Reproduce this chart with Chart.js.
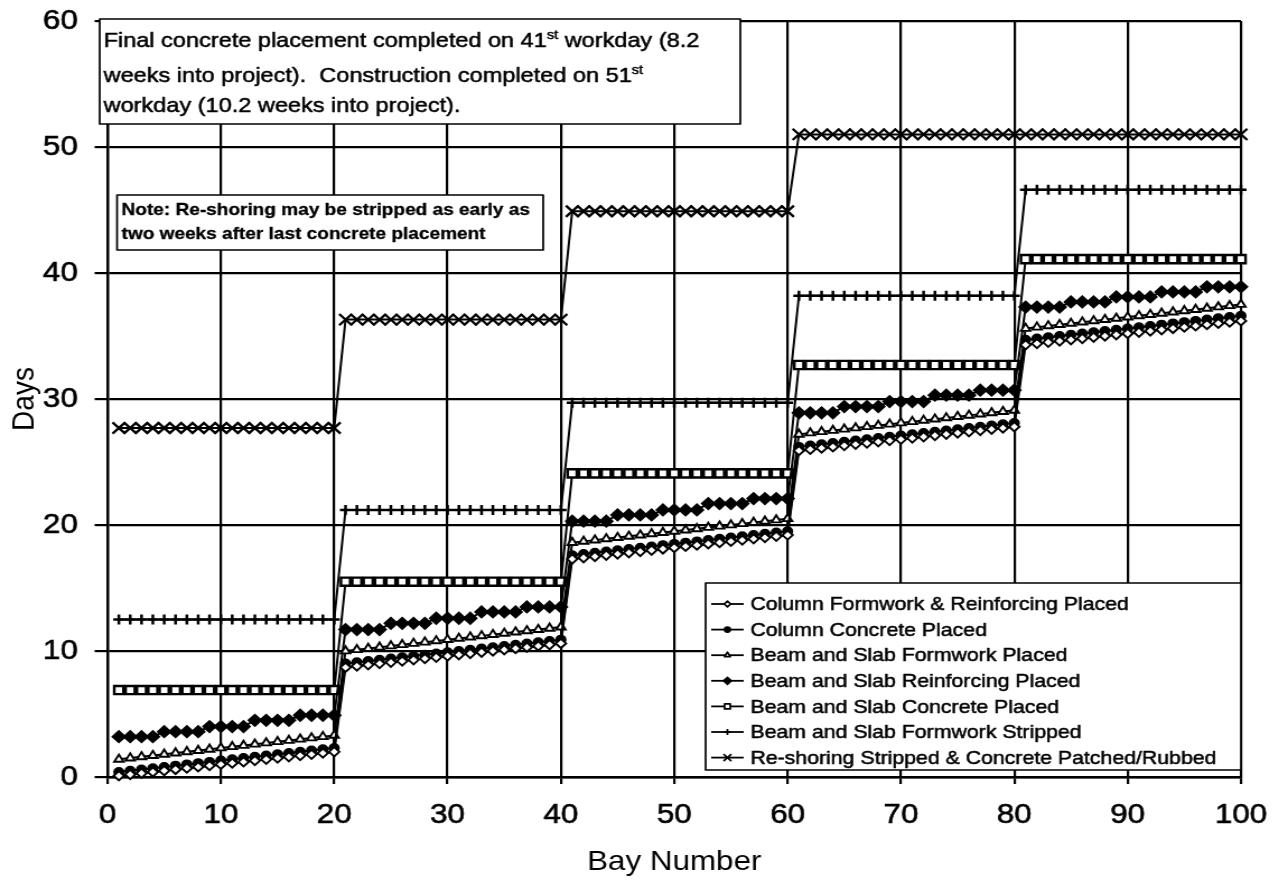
<!DOCTYPE html>
<html>
<head>
<meta charset="utf-8">
<title>Bay construction schedule</title>
<script src="https://cdn.jsdelivr.net/npm/chart.js@4.4.1/dist/chart.umd.min.js"></script>
<style>
  html, body { margin: 0; padding: 0; background: #fff; overflow: hidden; }
  /* the chart is laid out 1136 px wide and shown 12% wider */
  #wrap { width: 1136px; height: 880px; transform: scaleX(1.12); transform-origin: 0 0; }
  #schedule { display: block; }
</style>
</head>
<body>
<div id="wrap"><canvas id="schedule" width="1136" height="880"></canvas></div>
<script>
// ---- data -------------------------------------------------------------
const seriesLabels = [
  'Column Formwork & Reinforcing Placed',
  'Column Concrete Placed',
  'Beam and Slab Formwork Placed',
  'Beam and Slab Reinforcing Placed',
  'Beam and Slab Concrete Placed',
  'Beam and Slab Formwork Stripped',
  'Re-shoring Stripped & Concrete Patched/Rubbed'
];
const xTickValues = [0, 10, 20, 30, 40, 50, 60, 70, 80, 90, 100];
const yTickValues = [0, 10, 20, 30, 40, 50, 60];

// bay numbers 1..100
const bayNumbers = [];
for (let b = 1; b <= 100; b++) bayNumbers.push(b);

const columnFormworkDays = [
  0.1, 0.2, 0.3, 0.4, 0.5, 0.6, 0.7, 0.8, 0.9, 1.0, 1.1, 1.2, 1.3, 1.4, 1.5, 1.6, 1.7, 1.8, 1.9, 2.0,
  8.7, 8.8, 8.9, 9.0, 9.1, 9.2, 9.3, 9.4, 9.5, 9.6, 9.7, 9.8, 9.9, 10.0, 10.1, 10.2, 10.3, 10.4, 10.5, 10.6,
  17.3, 17.4, 17.5, 17.6, 17.7, 17.8, 17.9, 18.0, 18.1, 18.2, 18.3, 18.4, 18.5, 18.6, 18.7, 18.8, 18.9, 19.0, 19.1, 19.2,
  25.9, 26.0, 26.1, 26.2, 26.3, 26.4, 26.5, 26.6, 26.7, 26.8, 26.9, 27.0, 27.1, 27.2, 27.3, 27.4, 27.5, 27.6, 27.7, 27.8,
  34.3, 34.4, 34.5, 34.6, 34.7, 34.8, 34.9, 35.0, 35.1, 35.2, 35.3, 35.4, 35.5, 35.6, 35.7, 35.8, 35.9, 36.0, 36.1, 36.2
];
const columnConcreteDays = [
  0.4, 0.5, 0.6, 0.7, 0.8, 0.9, 1.0, 1.1, 1.2, 1.3, 1.4, 1.5, 1.6, 1.7, 1.8, 1.9, 2.0, 2.1, 2.2, 2.3,
  9.0, 9.1, 9.2, 9.3, 9.4, 9.5, 9.6, 9.7, 9.8, 9.9, 10.0, 10.1, 10.2, 10.3, 10.4, 10.5, 10.6, 10.7, 10.8, 10.9,
  17.6, 17.7, 17.8, 17.9, 18.0, 18.1, 18.2, 18.3, 18.4, 18.5, 18.6, 18.7, 18.8, 18.9, 19.0, 19.1, 19.2, 19.3, 19.4, 19.5,
  26.2, 26.3, 26.4, 26.5, 26.6, 26.7, 26.8, 26.9, 27.0, 27.1, 27.2, 27.3, 27.4, 27.5, 27.6, 27.7, 27.8, 27.9, 28.0, 28.1,
  34.7, 34.8, 34.9, 35.0, 35.1, 35.2, 35.3, 35.4, 35.5, 35.6, 35.7, 35.8, 35.9, 36.0, 36.1, 36.2, 36.3, 36.4, 36.5, 36.6
];
const beamFormworkDays = [
  1.4, 1.5, 1.6, 1.7, 1.8, 1.9, 2.0, 2.1, 2.2, 2.3, 2.4, 2.5, 2.6, 2.7, 2.8, 2.9, 3.0, 3.1, 3.2, 3.3,
  10.0, 10.1, 10.2, 10.3, 10.4, 10.5, 10.6, 10.7, 10.8, 10.9, 11.0, 11.1, 11.2, 11.3, 11.4, 11.5, 11.6, 11.7, 11.8, 11.9,
  18.6, 18.7, 18.8, 18.9, 19.0, 19.1, 19.2, 19.3, 19.4, 19.5, 19.6, 19.7, 19.8, 19.9, 20.0, 20.1, 20.2, 20.3, 20.4, 20.5,
  27.2, 27.3, 27.4, 27.5, 27.6, 27.7, 27.8, 27.9, 28.0, 28.1, 28.2, 28.3, 28.4, 28.5, 28.6, 28.7, 28.8, 28.9, 29.0, 29.1,
  35.6, 35.7, 35.8, 35.9, 36.0, 36.1, 36.2, 36.3, 36.4, 36.5, 36.6, 36.7, 36.8, 36.9, 37.0, 37.1, 37.2, 37.3, 37.4, 37.5
];
const beamReinforcingDays = [
  3.2, 3.2, 3.2, 3.2, 3.6, 3.6, 3.6, 3.6, 4.0, 4.0, 4.0, 4.0, 4.5, 4.5, 4.5, 4.5, 4.9, 4.9, 4.9, 4.9,
  11.7, 11.7, 11.7, 11.7, 12.2, 12.2, 12.2, 12.2, 12.6, 12.6, 12.6, 12.6, 13.1, 13.1, 13.1, 13.1, 13.5, 13.5, 13.5, 13.5,
  20.3, 20.3, 20.3, 20.3, 20.8, 20.8, 20.8, 20.8, 21.2, 21.2, 21.2, 21.2, 21.7, 21.7, 21.7, 21.7, 22.1, 22.1, 22.1, 22.1,
  28.9, 28.9, 28.9, 28.9, 29.4, 29.4, 29.4, 29.4, 29.8, 29.8, 29.8, 29.8, 30.3, 30.3, 30.3, 30.3, 30.7, 30.7, 30.7, 30.7,
  37.3, 37.3, 37.3, 37.3, 37.7, 37.7, 37.7, 37.7, 38.1, 38.1, 38.1, 38.1, 38.5, 38.5, 38.5, 38.5, 38.9, 38.9, 38.9, 38.9
];
const beamConcreteDays = [
  6.9, 6.9, 6.9, 6.9, 6.9, 6.9, 6.9, 6.9, 6.9, 6.9, 6.9, 6.9, 6.9, 6.9, 6.9, 6.9, 6.9, 6.9, 6.9, 6.9,
  15.5, 15.5, 15.5, 15.5, 15.5, 15.5, 15.5, 15.5, 15.5, 15.5, 15.5, 15.5, 15.5, 15.5, 15.5, 15.5, 15.5, 15.5, 15.5, 15.5,
  24.1, 24.1, 24.1, 24.1, 24.1, 24.1, 24.1, 24.1, 24.1, 24.1, 24.1, 24.1, 24.1, 24.1, 24.1, 24.1, 24.1, 24.1, 24.1, 24.1,
  32.7, 32.7, 32.7, 32.7, 32.7, 32.7, 32.7, 32.7, 32.7, 32.7, 32.7, 32.7, 32.7, 32.7, 32.7, 32.7, 32.7, 32.7, 32.7, 32.7,
  41.1, 41.1, 41.1, 41.1, 41.1, 41.1, 41.1, 41.1, 41.1, 41.1, 41.1, 41.1, 41.1, 41.1, 41.1, 41.1, 41.1, 41.1, 41.1, 41.1
];
const formworkStrippedDays = [
  12.5, 12.5, 12.5, 12.5, 12.5, 12.5, 12.5, 12.5, 12.5, 12.5, 12.5, 12.5, 12.5, 12.5, 12.5, 12.5, 12.5, 12.5, 12.5, 12.5,
  21.2, 21.2, 21.2, 21.2, 21.2, 21.2, 21.2, 21.2, 21.2, 21.2, 21.2, 21.2, 21.2, 21.2, 21.2, 21.2, 21.2, 21.2, 21.2, 21.2,
  29.7, 29.7, 29.7, 29.7, 29.7, 29.7, 29.7, 29.7, 29.7, 29.7, 29.7, 29.7, 29.7, 29.7, 29.7, 29.7, 29.7, 29.7, 29.7, 29.7,
  38.2, 38.2, 38.2, 38.2, 38.2, 38.2, 38.2, 38.2, 38.2, 38.2, 38.2, 38.2, 38.2, 38.2, 38.2, 38.2, 38.2, 38.2, 38.2, 38.2,
  46.6, 46.6, 46.6, 46.6, 46.6, 46.6, 46.6, 46.6, 46.6, 46.6, 46.6, 46.6, 46.6, 46.6, 46.6, 46.6, 46.6, 46.6, 46.6, 46.6
];
const reshoringStrippedDays = [
  27.7, 27.7, 27.7, 27.7, 27.7, 27.7, 27.7, 27.7, 27.7, 27.7, 27.7, 27.7, 27.7, 27.7, 27.7, 27.7, 27.7, 27.7, 27.7, 27.7,
  36.3, 36.3, 36.3, 36.3, 36.3, 36.3, 36.3, 36.3, 36.3, 36.3, 36.3, 36.3, 36.3, 36.3, 36.3, 36.3, 36.3, 36.3, 36.3, 36.3,
  44.9, 44.9, 44.9, 44.9, 44.9, 44.9, 44.9, 44.9, 44.9, 44.9, 44.9, 44.9, 44.9, 44.9, 44.9, 44.9, 44.9, 44.9, 44.9, 44.9,
  51.0, 51.0, 51.0, 51.0, 51.0, 51.0, 51.0, 51.0, 51.0, 51.0, 51.0, 51.0, 51.0, 51.0, 51.0, 51.0, 51.0, 51.0, 51.0, 51.0,
  51.0, 51.0, 51.0, 51.0, 51.0, 51.0, 51.0, 51.0, 51.0, 51.0, 51.0, 51.0, 51.0, 51.0, 51.0, 51.0, 51.0, 51.0, 51.0, 51.0
];

const seriesValues = [
  columnFormworkDays, columnConcreteDays, beamFormworkDays, beamReinforcingDays,
  beamConcreteDays, formworkStrippedDays, reshoringStrippedDays
];

// ---- marker styles per activity ----------------------------------------
const markerStyles = [
  { pointStyle: 'rectRot',  pointRadius: 4.6, fill: '#fff', pointBorderWidth: 1.9 },
  { pointStyle: 'circle',   pointRadius: 4.3, fill: '#000', pointBorderWidth: 1.4 },
  { pointStyle: 'triangle', pointRadius: 4.8, fill: '#fff', pointBorderWidth: 1.9 },
  { pointStyle: 'rectRot',  pointRadius: 5.9, fill: '#000', pointBorderWidth: 1.4 },
  { pointStyle: 'rect',     pointRadius: 5.8, fill: '#fff', pointBorderWidth: 2.4 },
  { pointStyle: 'cross',    pointRadius: 5.0, fill: '#000', pointBorderWidth: 2.5 },
  { pointStyle: 'crossRot', pointRadius: 8.0, fill: '#000', pointBorderWidth: 2.3 }
];

const datasets = seriesLabels.map((label, i) => ({
  label,
  data: bayNumbers.map((bay, k) => ({ x: bay, y: seriesValues[i][k] })),
  borderColor: '#000',
  borderWidth: 2,
  pointStyle: markerStyles[i].pointStyle,
  pointRadius: markerStyles[i].pointRadius,
  pointHoverRadius: markerStyles[i].pointRadius,
  pointBorderWidth: markerStyles[i].pointBorderWidth,
  pointBorderColor: '#000',
  pointBackgroundColor: markerStyles[i].fill,
  tension: 0,
  fill: false,
  clip: false
}));

// ---- boxed notes and the legend panel -------------------------------------
const FONT = "'Liberation Sans', Arial, Helvetica, sans-serif";

function heavyText(ctx, text, x, y) {
  ctx.fillText(text, x, y);
  ctx.strokeText(text, x, y);
}

function drawTextWithSup(ctx, parts, x, y, size) {
  let cx = x;
  for (const p of parts) {
    if (p.sup) {
      ctx.font = `${Math.round(size * 0.62)}px ${FONT}`;
      heavyText(ctx, p.text, cx, y - size * 0.38);
    } else {
      ctx.font = `${size}px ${FONT}`;
      heavyText(ctx, p.text, cx, y);
    }
    cx += ctx.measureText(p.text).width;
  }
}

const notesPlugin = {
  id: 'notes',
  afterDraw(chart) {
    const ctx = chart.ctx;
    const area = chart.chartArea;
    ctx.save();
    ctx.strokeStyle = '#000';
    ctx.fillStyle = '#000';
    ctx.textBaseline = 'alphabetic';
    ctx.textAlign = 'left';
    ctx.lineJoin = 'round';

    // schedule summary box (top left)
    const b1 = { left: area.left - 7, top: area.top - 2, right: 661, bottom: 124 };
    ctx.lineWidth = 1.7;
    ctx.fillStyle = '#fff';
    ctx.fillRect(b1.left, b1.top, b1.right - b1.left, b1.bottom - b1.top);
    ctx.strokeRect(b1.left, b1.top, b1.right - b1.left, b1.bottom - b1.top);
    ctx.fillStyle = '#000';
    ctx.lineWidth = 0.5;
    const tx = b1.left + 3.5;
    drawTextWithSup(ctx, [
      { text: 'Final concrete placement completed on 41' }, { text: 'st', sup: true },
      { text: ' workday (8.2' }], tx, 47, 21);
    drawTextWithSup(ctx, [
      { text: 'weeks into project).  Construction completed on 51' }, { text: 'st', sup: true }],
      tx, 82, 21);
    drawTextWithSup(ctx, [{ text: 'workday (10.2 weeks into project).' }], tx, 112, 21);

    // re-shoring note
    const b2 = { left: 104.5, top: 195, right: 485, bottom: 250 };
    ctx.lineWidth = 1.7;
    ctx.fillStyle = '#fff';
    ctx.fillRect(b2.left, b2.top, b2.right - b2.left, b2.bottom - b2.top);
    ctx.strokeRect(b2.left, b2.top, b2.right - b2.left, b2.bottom - b2.top);
    ctx.fillStyle = '#000';
    ctx.lineWidth = 0.3;
    ctx.font = `bold 17px ${FONT}`;
    heavyText(ctx, 'Note: Re-shoring may be stripped as early as', b2.left + 4, 215);
    heavyText(ctx, 'two weeks after last concrete placement', b2.left + 4, 239);

    // legend panel (bottom right)
    const lg = { left: 630, top: 583, right: area.right, bottom: 770 };
    ctx.lineWidth = 1.7;
    ctx.fillStyle = '#fff';
    ctx.fillRect(lg.left, lg.top, lg.right - lg.left, lg.bottom - lg.top);
    ctx.strokeRect(lg.left, lg.top, lg.right - lg.left, lg.bottom - lg.top);
    ctx.font = `19px ${FONT}`;
    ctx.textBaseline = 'middle';
    chart.data.datasets.forEach((ds, i) => {
      const y = 604 + i * 25.6;
      const x0 = lg.left + 5, x1 = lg.left + 34;
      ctx.strokeStyle = '#000';
      ctx.lineWidth = 1.8;
      ctx.beginPath();
      ctx.moveTo(x0, y);
      ctx.lineTo(x1, y);
      ctx.stroke();
      ctx.fillStyle = ds.pointBackgroundColor;
      ctx.lineWidth = Math.min(ds.pointBorderWidth, 1.7);
      Chart.helpers.drawPoint(ctx, {
        pointStyle: ds.pointStyle,
        radius: ds.pointRadius * 0.62,
        rotation: 0,
        borderWidth: ctx.lineWidth
      }, (x0 + x1) / 2, y);
      ctx.fillStyle = '#000';
      ctx.lineWidth = 0.5;
      heavyText(ctx, ds.label, lg.left + 40, y + 1);
    });
    ctx.restore();
  }
};

// ---- chart -----------------------------------------------------------------
Chart.defaults.font.family = FONT;
Chart.defaults.color = '#000';

new Chart(document.getElementById('schedule'), {
  type: 'line',
  data: { datasets },
  options: {
    responsive: false,
    animation: false,
    events: [],
    layout: { padding: { top: 21, right: 28, left: 0, bottom: 0 } },
    plugins: { legend: { display: false }, tooltip: { enabled: false } },
    scales: {
      x: {
        type: 'linear',
        min: 0,
        max: 100,
        afterBuildTicks: axis => { axis.ticks = xTickValues.map(v => ({ value: v })); },
        afterFit: axis => { axis.height = 103; axis.paddingLeft = 0; axis.paddingRight = 0; },
        ticks: { font: { size: 28 }, padding: 14, maxRotation: 0, autoSkip: false,
                 textStrokeColor: '#000', textStrokeWidth: 0.6 },
        grid: { color: '#000', lineWidth: 2.2, tickLength: 7, tickColor: '#000' },
        border: { display: true, color: '#000', width: 2.4 },
        title: { display: true, text: 'Bay Number', font: { size: 28 }, padding: { top: 0, bottom: 1 } }
      },
      y: {
        type: 'linear',
        min: 0,
        max: 60,
        afterBuildTicks: axis => { axis.ticks = yTickValues.map(v => ({ value: v })); },
        afterFit: axis => { axis.width = 96; axis.paddingTop = 0; axis.paddingBottom = 0; },
        ticks: { font: { size: 28 }, padding: 15, textStrokeColor: '#000', textStrokeWidth: 0.6 },
        grid: { color: '#000', lineWidth: 2.2, tickLength: 11.5, tickColor: '#000' },
        border: { display: true, color: '#000', width: 2.4 },
        title: { display: true, text: 'Days', font: { size: 28 }, padding: { top: 5, bottom: 0 } }
      }
    }
  },
  plugins: [notesPlugin]
});
</script>
</body>
</html>
